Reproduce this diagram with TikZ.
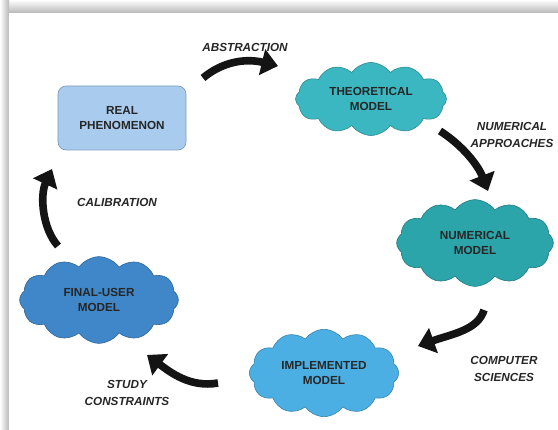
\documentclass[tikz,border=0pt]{standalone}
\usepackage{fontspec}
\setmainfont{Liberation Sans}
\usetikzlibrary{shapes.symbols,arrows.meta}

\definecolor{realfill}{HTML}{A9CCEE}
\definecolor{realline}{HTML}{7E9DBD}
\definecolor{theofill}{HTML}{3BB7C1}
\definecolor{numfill}{HTML}{2BA4AA}
\definecolor{implfill}{HTML}{4BAFE3}
\definecolor{userfill}{HTML}{3F87C9}

\begin{document}
\begin{tikzpicture}[x=0.03cm, y=-0.03cm,
    modelcloud/.style={cloud, cloud puffs=12, cloud puff arc=110, cloud ignores aspect,
        draw, line width=0.5pt, align=center, text=black!85, inner sep=0pt,
        font=\bfseries\fontsize{10}{13.5}\selectfont},
    steplabel/.style={align=center, text=black!85,
        font=\bfseries\itshape\fontsize{10}{15}\selectfont},
    flowarrow/.style={line width=6.5pt, black!92,
        -{Triangle[width=22pt,length=14pt]}}]

    % Frame with shadow
    \useasboundingbox (0,0) rectangle (558,430);
    \shade[top color=white, bottom color=black!28] (0,0) rectangle (558,13);
    \shade[left color=white, right color=black!28] (0,0) rectangle (9,430);
    \fill[white] (9,13) rectangle (558,430);

    % Real phenomenon
    \node[draw=realline, fill=realfill, rounded corners=7pt, line width=0.6pt,
        minimum width=3.84cm, minimum height=1.92cm, align=center, text=black!85,
        font=\bfseries\fontsize{10}{13.5}\selectfont]
        (real) at (122,118) {REAL\\PHENOMENON};

    % Models
    \node[modelcloud, fill=theofill, draw=theofill!75!black,
        minimum width=4.53cm, minimum height=2.19cm]
        (theo) at (371,99) {THEORETICAL\\MODEL};
    \node[modelcloud, fill=numfill, draw=numfill!75!black,
        minimum width=4.7cm, minimum height=2.6cm]
        (num) at (475,243) {NUMERICAL\\MODEL};
    \node[modelcloud, fill=implfill, draw=implfill!75!black,
        minimum width=4.48cm, minimum height=2.62cm]
        (impl) at (324,373) {IMPLEMENTED\\MODEL};
    \node[modelcloud, fill=userfill, draw=userfill!75!black,
        minimum width=4.76cm, minimum height=2.6cm]
        (user) at (99,300) {FINAL-USER\\MODEL};

    % Arrow ends
    \coordinate (abs-a) at (203,78);
    \coordinate (abs-b) at (278,66);
    \coordinate (app-a) at (440,131);
    \coordinate (app-b) at (488,191);
    \coordinate (cs-a) at (484,310);
    \coordinate (cs-b) at (418,346);
    \coordinate (sc-a) at (218,383);
    \coordinate (sc-b) at (147,355);
    \coordinate (cal-a) at (58,246);
    \coordinate (cal-b) at (52,169);

    % Arrows
    \draw[flowarrow] (abs-a) .. controls (222,62) and (245,58) .. (abs-b);
    \draw[flowarrow] (app-a) .. controls (462,145) and (478,165) .. (app-b);
    \draw[flowarrow] (cs-a) .. controls (478,330) and (452,334) .. (cs-b);
    \draw[flowarrow] (sc-a) .. controls (190,388) and (170,372) .. (sc-b);
    \draw[flowarrow] (cal-a) .. controls (42,228) and (40,195) .. (cal-b);

    % Labels
    \node[steplabel] (abs) at (245,47) {ABSTRACTION};
    \node[steplabel] (app) at (512,135) {NUMERICAL\\APPROACHES};
    \node[steplabel] (cs) at (504,369) {COMPUTER\\SCIENCES};
    \node[steplabel] (sc) at (127,393) {STUDY\\CONSTRAINTS};
    \node[steplabel] (cal) at (117,202) {CALIBRATION};

\end{tikzpicture}
\end{document}
